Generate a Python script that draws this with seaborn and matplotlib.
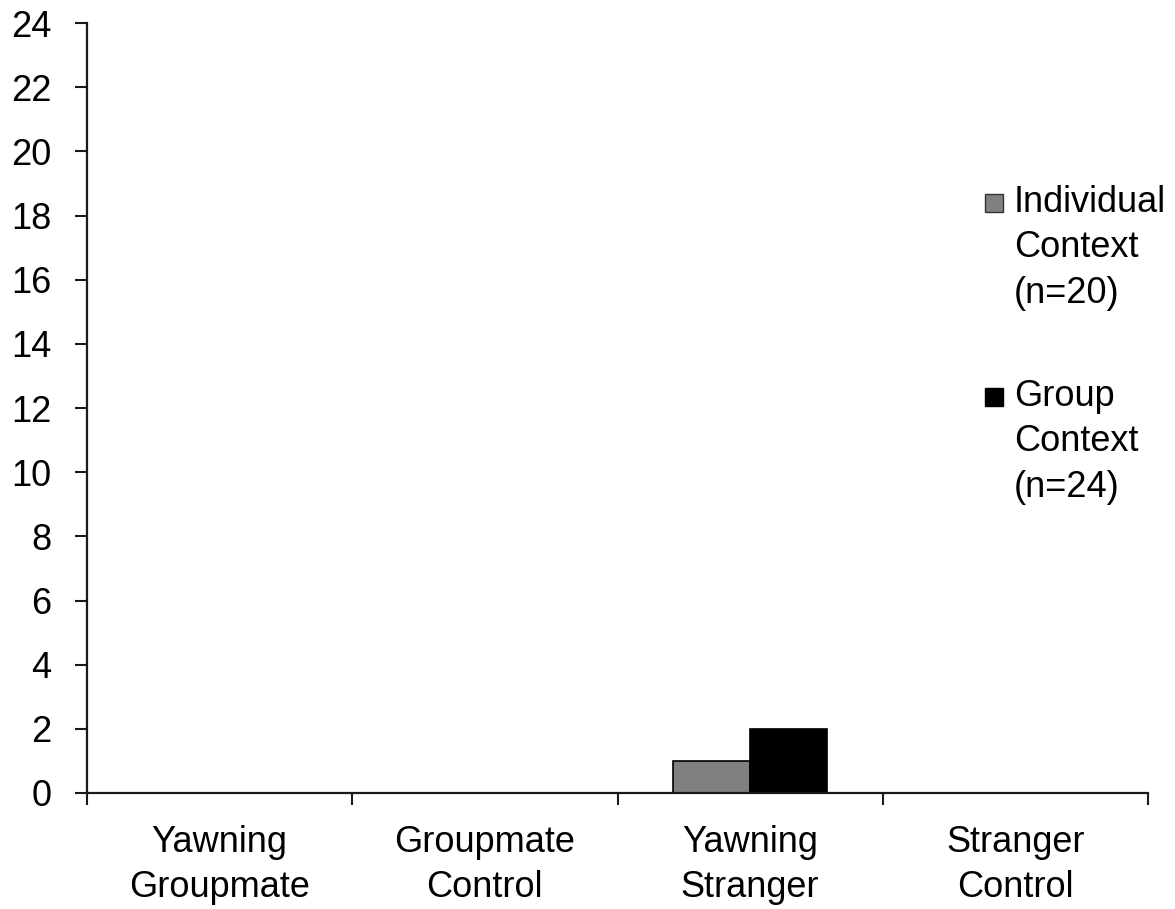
import pandas as pd
import seaborn as sns
import matplotlib.pyplot as plt
from matplotlib.patches import Patch, Rectangle
from matplotlib.legend_handler import HandlerPatch

conditions = ["Yawning\nGroupmate", "Groupmate\nControl", "Yawning\nStranger", "Stranger\nControl"]
individual = [0, 0, 1, 0]
group = [0, 0, 2, 0]
contexts = ["Individual\nContext\n(n=20)", "Group\nContext\n(n=24)"]
colors = ["#808080", "#000000"]

df = pd.DataFrame({
    "condition": conditions * 2,
    "count": individual + group,
    "context": [contexts[0]] * 4 + [contexts[1]] * 4,
})

sns.set_style("white")
plt.rcParams['font.family'] = ['Liberation Sans', 'DejaVu Sans']
plt.rcParams['text.color'] = 'black'
plt.rcParams['xtick.labelcolor'] = 'black'
plt.rcParams['ytick.labelcolor'] = 'black'

fig = plt.figure(figsize=(11.75, 9.09), dpi=100)
ax = fig.add_axes([87 / 1175, 1 - 793 / 909, (1148 - 87) / 1175, (793 - 23) / 909])

sns.barplot(data=df, x="condition", y="count", hue="context", palette=colors,
            width=0.58, edgecolor="black", linewidth=1.2, legend=False, ax=ax)

ax.set_xlim(-0.5, 3.5)
ax.set_ylim(0, 24)
ax.set_yticks(range(0, 25, 2))
ax.set_xlabel("")
ax.set_ylabel("")

# category labels on minor ticks, boundary ticks on major
ax.set_xticks([-0.5, 0.5, 1.5, 2.5, 3.5])
ax.set_xticklabels([])
ax.set_xticks(range(4), minor=True)
ax.set_xticklabels(conditions, minor=True)
for t in ax.get_xticklabels(minor=True):
    t.set_linespacing(1.38)
    t.set_color("black")
for t in ax.get_yticklabels():
    t.set_color("black")
ax.tick_params(axis="x", which="major", direction="out", length=8.5, width=1.5, color="#1a1a1a", bottom=True)
ax.tick_params(axis="x", which="minor", length=0, pad=23, labelsize=26)
ax.tick_params(axis="y", direction="out", length=8.5, width=1.5, color="#1a1a1a", left=True, pad=17, labelsize=26)

sns.despine(ax=ax)
for s in ["left", "bottom"]:
    ax.spines[s].set_linewidth(1.6)
    ax.spines[s].set_color("#1a1a1a")


def top_square(legend, orig_handle, xdescent, ydescent, width, height, fontsize):
    size = 0.5 * fontsize
    return Rectangle((-xdescent, -ydescent + 1.3 * fontsize), size, size)


handles = [Patch(facecolor=colors[0], edgecolor="#333333", linewidth=1),
           Patch(facecolor=colors[1], edgecolor="black", linewidth=1)]
leg = ax.legend(handles, contexts, loc="upper left", bbox_to_anchor=(985 / 1175, 1 - 185 / 909),
                bbox_transform=fig.transFigure, frameon=False, fontsize=26, borderpad=0, borderaxespad=0,
                handlelength=0.5, handleheight=0.5, handletextpad=0.3, labelspacing=1.9,
                handler_map={Patch: HandlerPatch(patch_func=top_square)})
for t in leg.get_texts():
    t.set_linespacing(1.38)
    t.set_color("black")

plt.savefig("out.png", dpi=100)
